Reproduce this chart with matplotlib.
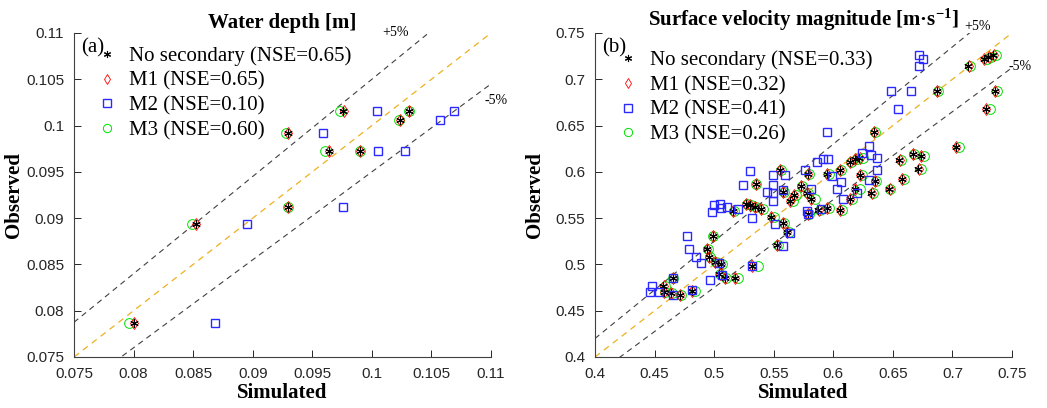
import numpy as np
import matplotlib
matplotlib.use('Agg')
import matplotlib.pyplot as plt

SERIF = 'Liberation Serif'
SANS = 'Liberation Sans'
plt.rcParams['mathtext.fontset'] = 'custom'
plt.rcParams['mathtext.rm'] = 'Liberation Serif:bold'
plt.rcParams['mathtext.bf'] = 'Liberation Serif:bold'
plt.rcParams['mathtext.it'] = 'Liberation Serif:bold'

# ---- (a) water depth [m] ----
obs_a = [0.0787, 0.0894, 0.0912, 0.0992, 0.0973, 0.0973, 0.1016, 0.1006, 0.1016]
sim_a_ns = [0.0800, 0.0852, 0.0930, 0.0930, 0.0964, 0.0990, 0.0976, 0.1024, 0.1031]
sim_a_m1 = [0.0800, 0.0852, 0.0930, 0.0930, 0.0964, 0.0990, 0.0977, 0.1024, 0.1031]
sim_a_m2 = [0.0868, 0.0895, 0.0976, 0.0959, 0.1005, 0.1028, 0.1004, 0.1057, 0.1069]
sim_a_m3 = [0.0796, 0.0849, 0.0930, 0.0928, 0.0961, 0.0990, 0.0973, 0.1023, 0.1031]
nse_a = [0.65, 0.65, 0.10, 0.60]
ticks_a = [0.075, 0.08, 0.085, 0.09, 0.095, 0.1, 0.105, 0.11]

# ---- (b) surface velocity magnitude [m/s] ----
obs_b = [0.4771, 0.4700, 0.4692, 0.4670, 0.4857, 0.4717, 0.5167, 0.5084, 0.5308, 0.5030,
         0.5005, 0.4894, 0.4851, 0.4857, 0.4987, 0.5578, 0.5650, 0.5640, 0.5618, 0.5603,
         0.5866, 0.5510, 0.5445, 0.5354, 0.5210, 0.6020, 0.5780, 0.5750, 0.5689, 0.5848,
         0.5775, 0.5704, 0.5974, 0.5974, 0.6020, 0.5607, 0.5588, 0.5545, 0.5588, 0.6110,
         0.6140, 0.6150, 0.5966, 0.5902, 0.5815, 0.5704, 0.5775, 0.6434, 0.5815, 0.5920,
         0.6128, 0.6193, 0.6172, 0.6028, 0.6272, 0.6874, 0.7147, 0.7216, 0.7238, 0.7262,
         0.6874, 0.6679]
sim_b_ns = [0.4573, 0.4580, 0.4638, 0.4713, 0.4652, 0.4816, 0.4937, 0.4959, 0.4988, 0.5007,
            0.5057, 0.5043, 0.5091, 0.5175, 0.5315, 0.5155, 0.5267, 0.5300, 0.5340, 0.5390,
            0.5348, 0.5474, 0.5580, 0.5608, 0.5524, 0.5552, 0.5580, 0.5672, 0.5636, 0.5728,
            0.5776, 0.5812, 0.5785, 0.5944, 0.6056, 0.5944, 0.5874, 0.5785, 0.6056, 0.6140,
            0.6180, 0.6220, 0.6223, 0.6349, 0.6181, 0.6140, 0.6320, 0.6343, 0.6470, 0.6573,
            0.6553, 0.6665, 0.6733, 0.6713, 0.7029, 0.6867, 0.7132, 0.7264, 0.7300, 0.7342,
            0.7356, 0.7280]
sim_b_m1 = [0.4575, 0.4582, 0.4640, 0.4715, 0.4653, 0.4818, 0.4938, 0.4960, 0.4990, 0.5009,
            0.5059, 0.5045, 0.5093, 0.5178, 0.5318, 0.5157, 0.5269, 0.5302, 0.5342, 0.5392,
            0.5350, 0.5477, 0.5582, 0.5610, 0.5526, 0.5554, 0.5582, 0.5674, 0.5638, 0.5730,
            0.5778, 0.5815, 0.5787, 0.5946, 0.6058, 0.5947, 0.5876, 0.5787, 0.6058, 0.6142,
            0.6182, 0.6223, 0.6226, 0.6351, 0.6184, 0.6142, 0.6322, 0.6345, 0.6472, 0.6576,
            0.6556, 0.6668, 0.6736, 0.6716, 0.7032, 0.6870, 0.7135, 0.7267, 0.7303, 0.7345,
            0.7359, 0.7284]
sim_b_m3 = [0.4585, 0.4585, 0.4645, 0.4720, 0.4655, 0.4838, 0.4945, 0.4965, 0.4990, 0.5012,
            0.5065, 0.5050, 0.5100, 0.5203, 0.5371, 0.5168, 0.5275, 0.5310, 0.5350, 0.5412,
            0.5350, 0.5500, 0.5590, 0.5625, 0.5540, 0.5560, 0.5590, 0.5690, 0.5660, 0.5735,
            0.5790, 0.5846, 0.5795, 0.5960, 0.6065, 0.5960, 0.5885, 0.5795, 0.6070, 0.6150,
            0.6200, 0.6250, 0.6240, 0.6360, 0.6223, 0.6160, 0.6335, 0.6350, 0.6476, 0.6593,
            0.6572, 0.6680, 0.6762, 0.6733, 0.7051, 0.6881, 0.7149, 0.7290, 0.7325, 0.7367,
            0.7370, 0.7314]
obs_b_m2 = [0.4700, 0.4771, 0.4700, 0.4670, 0.4857, 0.4724, 0.5308, 0.5164, 0.5078, 0.5013,
            0.4833, 0.5013, 0.4887, 0.4987, 0.5571, 0.5642, 0.5650, 0.5607, 0.5624, 0.5596,
            0.5858, 0.6013, 0.5505, 0.5780, 0.5966, 0.5858, 0.5769, 0.5689, 0.5434, 0.5203,
            0.5337, 0.5804, 0.5966, 0.6020, 0.5580, 0.5545, 0.5820, 0.5595, 0.6104, 0.6136,
            0.6136, 0.6428, 0.5956, 0.5812, 0.5894, 0.5704, 0.5775, 0.6200, 0.6280, 0.5912,
            0.6182, 0.6020, 0.6147, 0.6874, 0.6679, 0.6874, 0.7147, 0.7262, 0.7219]
sim_b_m2 = [0.4461, 0.4476, 0.4540, 0.4657, 0.4652, 0.4811, 0.4769, 0.4789, 0.4847, 0.4887,
            0.4965, 0.5040, 0.5063, 0.5315, 0.4979, 0.4998, 0.5049, 0.5054, 0.5105, 0.5197,
            0.5240, 0.5300, 0.5320, 0.5440, 0.5491, 0.5496, 0.5491, 0.5491, 0.5510, 0.5580,
            0.5636, 0.5580, 0.5594, 0.5762, 0.5776, 0.5790, 0.5810, 0.5900, 0.5860, 0.5910,
            0.5953, 0.5944, 0.5986, 0.6028, 0.6061, 0.6083, 0.6196, 0.6243, 0.6301, 0.6301,
            0.6316, 0.6363, 0.6369, 0.6483, 0.6540, 0.6651, 0.6718, 0.6718, 0.6755]
nse_b = [0.33, 0.32, 0.41, 0.26]
ticks_b = [0.4, 0.45, 0.5, 0.55, 0.6, 0.65, 0.7, 0.75]

names = ['No secondary', 'M1', 'M2', 'M3']
GOLD = '#EDB120'
STAR = (6, 2, 0)   # asterisk, like matlab '*'


def scatter_panel(ax, obs, obs_m2, sims, nse, ticks, tag, title, pos5, neg5, leg_top):
    lo, hi = ticks[0], ticks[-1]
    xs = np.array([lo, hi])
    ax.plot(xs, xs, '--', color=GOLD, lw=0.9, dashes=(5, 4), zorder=1)
    ax.plot(xs, 1.05 * xs, '--', color='#404040', lw=0.8, dashes=(5, 4), zorder=1)
    ax.plot(xs, 0.95 * xs, '--', color='#404040', lw=0.8, dashes=(5, 4), zorder=1)

    ns, m1, m2, m3 = sims
    h3, = ax.plot(m3, obs, 'o', mfc='none', mec='#00E000', ms=7, mew=0.7, zorder=2)
    h1, = ax.plot(m1, obs, 'd', mfc='none', mec='#FF0000', ms=6.5, mew=0.6, zorder=3)
    h0, = ax.plot(ns, obs, marker=STAR, ls='none', color='k', ms=6, mew=0.8, zorder=4)
    h2, = ax.plot(m2, obs_m2, 's', mfc='none', mec='#2A2AFF', ms=6, mew=1.0, zorder=5)

    labels = [f'{n} (NSE={v:.2f})' for n, v in zip(names, nse)]
    ax.legend([h0, h1, h2, h3], labels, loc='upper left', bbox_to_anchor=(0.054, leg_top),
              frameon=False, prop={'family': SERIF, 'size': 15}, handlelength=1.0,
              handletextpad=0.56, labelspacing=0.25, borderaxespad=0, borderpad=0,
              markerscale=0.85)

    ax.set_xlim(lo, hi)
    ax.set_ylim(lo, hi)
    ax.set_xticks(ticks)
    ax.set_yticks(ticks)
    ax.set_xticklabels([f'{t:g}' for t in ticks])
    ax.set_yticklabels([f'{t:g}' for t in ticks])
    for lab in ax.get_xticklabels() + ax.get_yticklabels():
        lab.set_fontfamily(SANS)
    ax.tick_params(direction='in', length=5, width=0.7, colors='#262626',
                   labelsize=11, pad=7)
    for s in ['top', 'right']:
        ax.spines[s].set_visible(False)
    for s in ['left', 'bottom']:
        ax.spines[s].set_color('#404040')
        ax.spines[s].set_linewidth(0.8)

    ax.set_title(title, family=SERIF, weight='bold', size=15, pad=3)
    ax.set_xlabel('Simulated', family=SERIF, weight='bold', size=15, labelpad=2)
    ax.set_ylabel('Observed', family=SERIF, weight='bold', size=15)
    ax.yaxis.set_label_coords(-0.12, 0.5)
    ax.text(0.016, 0.985, tag, transform=ax.transAxes, family=SERIF, size=15,
            ha='left', va='top')
    ax.text(pos5[0], pos5[1], '+5%', family=SERIF, size=10, ha='center', va='center',
            clip_on=False)
    ax.text(neg5[0], neg5[1], '-5%', family=SERIF, size=10, ha='center', va='center',
            clip_on=False)


fig = plt.figure(figsize=(10.47, 4.08), dpi=100)
ax_a = fig.add_axes([74 / 1047, 51 / 408, 417 / 1047, 324 / 408])
ax_b = fig.add_axes([595 / 1047, 51 / 408, 417 / 1047, 324 / 408])

scatter_panel(ax_a, obs_a, obs_a, [sim_a_ns, sim_a_m1, sim_a_m2, sim_a_m3], nse_a,
              ticks_a, '(a)', 'Water depth [m]', (0.1020, 0.1100), (0.1104, 0.1027), 0.9586)
scatter_panel(ax_b, obs_b, obs_b_m2, [sim_b_ns, sim_b_m1, sim_b_m2, sim_b_m3], nse_b,
              ticks_b, '(b)', r'Surface velocity magnitude [m·s$^{-1}$]',
              (0.7213, 0.7565), (0.7566, 0.7136), 0.946)

fig.savefig('out.png', dpi=100)
